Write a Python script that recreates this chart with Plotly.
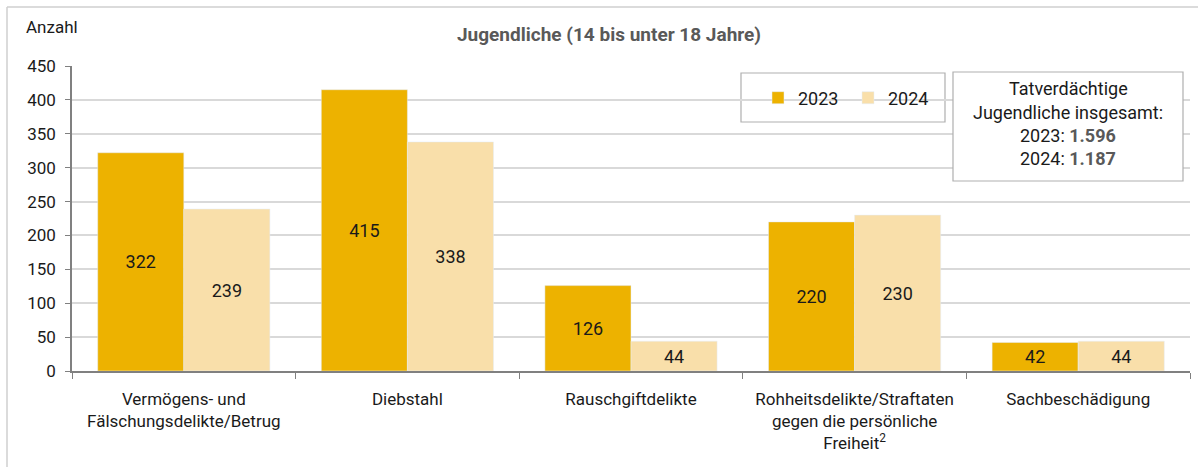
import plotly.graph_objects as go

categories = ["Vermögens- und<br>Fälschungsdelikte/Betrug", "Diebstahl", "Rauschgiftdelikte",
              "Rohheitsdelikte/Straftaten<br>gegen die persönliche<br>Freiheit<sup>2</sup>", "Sachbeschädigung"]
values_2023 = [322, 415, 126, 220, 42]
values_2024 = [239, 338, 44, 230, 44]
y_ticks = [0, 50, 100, 150, 200, 250, 300, 350, 400, 450]
total_2023 = "1.596"
total_2024 = "1.187"

FONT = "Roboto, sans-serif"
C23 = "#EDB200"
C24 = "#F9DFAA"

W, H = 1198, 467
ml, mr, mt, mb = 72, 8, 66, 96
pw, ph = W - ml - mr, H - mt - mb

def px(x):
    return (x - ml) / pw

def py(y):
    return (H - mb - y) / ph

fig = go.Figure()
fig.add_trace(go.Bar(x=categories, y=values_2023, name="2023", marker_color=C23,
                     text=[str(v) for v in values_2023], textposition="inside",
                     insidetextanchor="middle", textfont=dict(size=18, color="#1a1a1a", family=FONT)))
fig.add_trace(go.Bar(x=categories, y=values_2024, name="2024", marker_color=C24,
                     text=[str(v) for v in values_2024], textposition="inside",
                     insidetextanchor="middle", textfont=dict(size=18, color="#1a1a1a", family=FONT)))

fig.update_layout(
    width=W, height=H,
    margin=dict(l=ml, r=mr, t=mt, b=mb),
    paper_bgcolor="white", plot_bgcolor="white",
    barmode="group", bargap=0.23, bargroupgap=0,
    font=dict(family=FONT, size=17, color="#1a1a1a"),
    uniformtext=dict(minsize=18, mode="show"),
    showlegend=True,
    legend=dict(orientation="h", x=px(758), y=py(98), xanchor="left", yanchor="middle",
                bgcolor="rgba(0,0,0,0)", font=dict(size=18, family=FONT),
                itemwidth=30, entrywidth=45, entrywidthmode="pixels", traceorder="normal"),
    xaxis=dict(type="category", tickson="boundaries", ticks="outside", ticklen=6,
               tickcolor="#808080", showline=True, linecolor="#808080", linewidth=1.5,
               showgrid=False, tickfont=dict(size=17, family=FONT), ticklabelstandoff=12),
    yaxis=dict(range=[0, 450], tickvals=y_ticks, ticks="outside", ticklen=5,
               tickcolor="#808080", showline=True, linecolor="#808080", linewidth=1.5,
               showgrid=True, gridcolor="#D9D9D9", gridwidth=1.5, zeroline=False,
               tickfont=dict(size=17, family=FONT), ticklabelstandoff=6),
)

# Title and axis title
fig.add_annotation(text="<b>Jugendliche (14 bis unter 18 Jahre)</b>", xref="paper", yref="paper",
                   x=px(609), y=py(35), xanchor="center", yanchor="middle", showarrow=False,
                   font=dict(size=19, color="#595959", family=FONT))
fig.add_annotation(text="Anzahl", xref="paper", yref="paper", x=px(24), y=py(27), xanchor="left",
                   yanchor="middle", showarrow=False, font=dict(size=17, family=FONT))

# Legend box
fig.add_shape(type="rect", xref="paper", yref="paper", x0=px(741), x1=px(945), y0=py(122), y1=py(73),
              line=dict(color="#AFAFAF", width=1.2), fillcolor="white", layer="below")
# Totals box
fig.add_shape(type="rect", xref="paper", yref="paper", x0=px(953), x1=px(1183), y0=py(181), y1=py(72),
              line=dict(color="#AFAFAF", width=1.2), fillcolor="white", layer="above")
box_lines = ["Tatverdächtige", "Jugendliche insgesamt:",
             f"2023: <b><span style='color:#595959'>{total_2023}</span></b>",
             f"2024: <b><span style='color:#595959'>{total_2024}</span></b>"]
for i, line in enumerate(box_lines):
    fig.add_annotation(text=line, xref="paper", yref="paper", x=px(1068), y=py(89 + 23 * i),
                       xanchor="center", yanchor="middle", showarrow=False,
                       font=dict(size=18, family=FONT))

# Outer frame (top and left)
fig.add_shape(type="line", xref="paper", yref="paper", x0=px(7), x1=px(1198), y0=py(7), y1=py(7),
              line=dict(color="#CFCFCF", width=1.5))
fig.add_shape(type="line", xref="paper", yref="paper", x0=px(7), x1=px(7), y0=py(7), y1=py(467),
              line=dict(color="#CFCFCF", width=1.5))

fig.write_html("out.html", config={"displayModeBar": False},
               post_script="document.body.style.margin='0';document.body.style.overflow='hidden';")
